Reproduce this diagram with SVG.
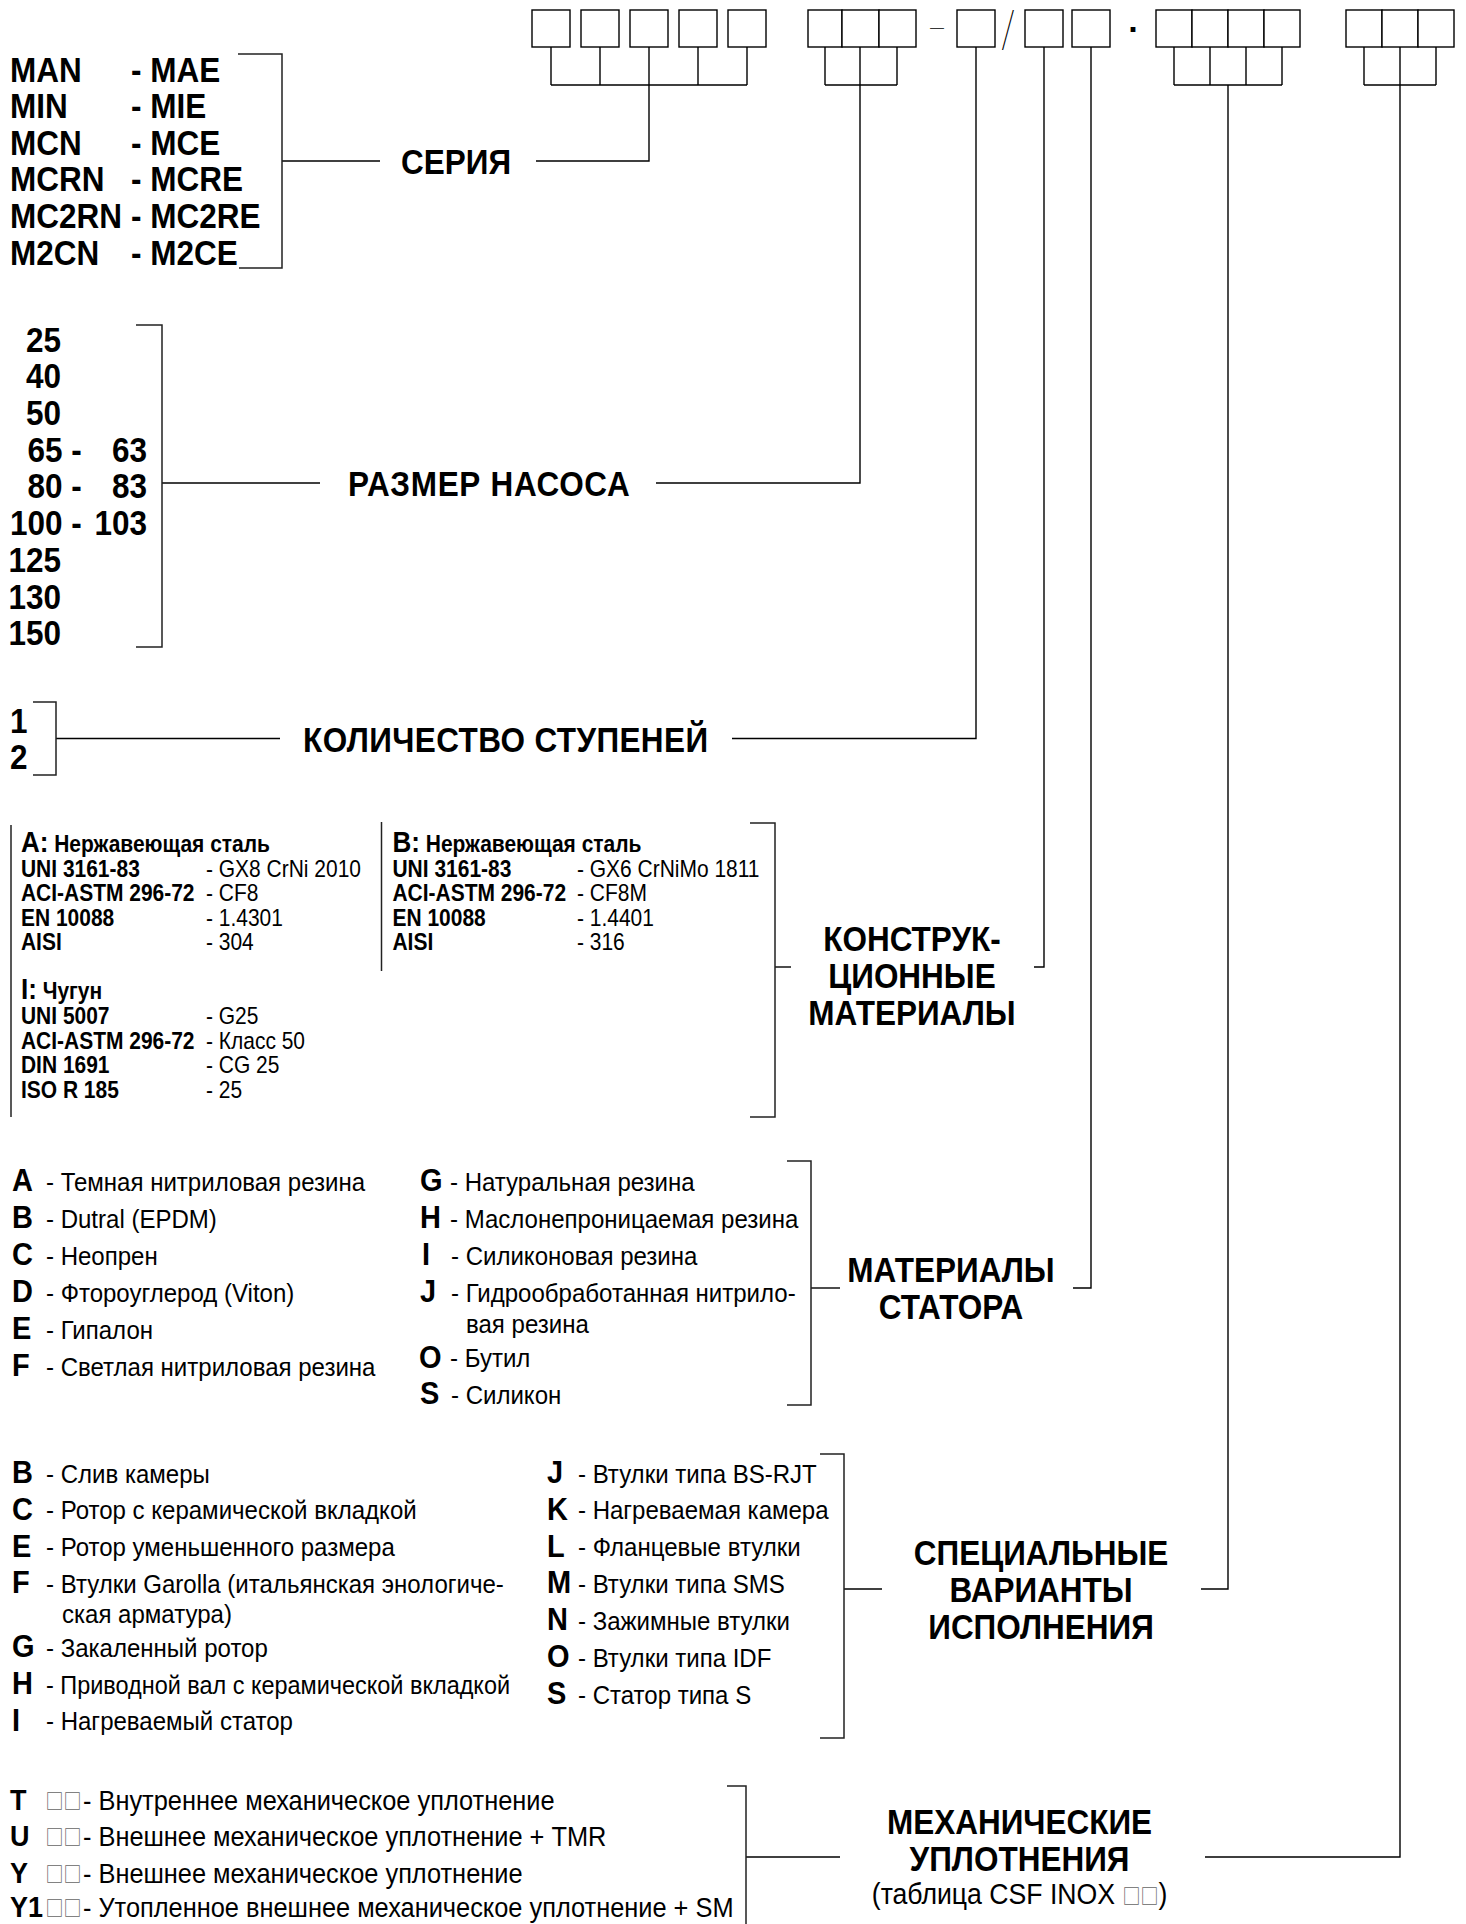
<svg xmlns="http://www.w3.org/2000/svg" width="1466" height="1924" viewBox="0 0 1466 1924">
<style>
text { font-family: "Liberation Sans", Arial, sans-serif; fill: #000; }
.lbl { font-size: 35px; font-weight: bold; }
.code { font-size: 35px; font-weight: bold; }
.ltr { font-size: 32.2px; font-weight: bold; }
.sltr { font-size: 30px; font-weight: bold; }
.it { font-size: 26.7px; }
.st { font-size: 28.2px; }
.sm { font-size: 23.3px; }
.smb { font-size: 23.3px; font-weight: bold; }
.big { font-size: 28.9px; font-weight: bold; }
.mid { text-anchor: middle; }
.end { text-anchor: end; }
.sq { font-family: "Noto Sans CJK SC", "DejaVu Sans", sans-serif; fill: #666; font-weight: normal; font-size: 20px; letter-spacing: 0px; }
.thin { font-family: Inter, "DejaVu Sans", sans-serif; font-weight: 100; }
.box { fill: #fff; stroke: #000; stroke-width: 1.4; }
.ln { fill: none; stroke: #000; stroke-width: 1.4; }
.br { fill: none; stroke: #222; stroke-width: 1.5; }
</style>
<rect width="1466" height="1924" fill="#fff"/>

<g id="connectors">
  <path class="ln" d="M551,47V85M600,47V85M649,47V85M698,47V85M747,47V85M551,85H747M649,85V161H536"/>
  <path class="ln" d="M282,161H380"/>
  <path class="ln" d="M825,47V85M860,47V85M897,47V85M825,85H897M860,85V483H656"/>
  <path class="ln" d="M162,483H320"/>
  <path class="ln" d="M976,47V738.5H732"/>
  <path class="ln" d="M56,738.5H280"/>
  <path class="ln" d="M1044,47V967H1034"/>
  <path class="ln" d="M775,967H791"/>
  <path class="ln" d="M1091,47V1288H1073"/>
  <path class="ln" d="M811,1288H840"/>
  <path class="ln" d="M1174,47V85M1210,47V85M1246,47V85M1282,47V85M1174,85H1282M1228,85V1589H1201"/>
  <path class="ln" d="M844,1589H882"/>
  <path class="ln" d="M1364,47V85M1400,47V85M1436,47V85M1364,85H1436M1400,85V1857H1205"/>
  <path class="ln" d="M746,1857H840"/>
</g>

<g id="code-template">
  <rect class="box" x="532" y="10" width="38" height="37"/>
  <rect class="box" x="581" y="10" width="38" height="37"/>
  <rect class="box" x="630" y="10" width="38" height="37"/>
  <rect class="box" x="679" y="10" width="38" height="37"/>
  <rect class="box" x="728" y="10" width="38" height="37"/>
  <rect class="box" x="808" y="10" width="34" height="37"/>
  <rect class="box" x="842" y="10" width="37" height="37"/>
  <rect class="box" x="879" y="10" width="37" height="37"/>
  <text x="937" y="37" style="font-size:28px" class="thin mid">–</text>
  <rect class="box" x="957" y="10" width="38" height="37"/>
  <text x="1008" y="45" style="font-size:46px" class="thin mid">/</text>
  <rect class="box" x="1025" y="10" width="38" height="37"/>
  <rect class="box" x="1072" y="10" width="38" height="37"/>
  <text x="1134" y="41" style="font-size:34px;font-weight:bold" class="mid">·</text>
  <rect class="box" x="1156" y="10" width="36" height="37"/>
  <rect class="box" x="1192" y="10" width="36" height="37"/>
  <rect class="box" x="1228" y="10" width="36" height="37"/>
  <rect class="box" x="1264" y="10" width="36" height="37"/>
  <rect class="box" x="1346" y="10" width="36" height="37"/>
  <rect class="box" x="1382" y="10" width="36" height="37"/>
  <rect class="box" x="1418" y="10" width="36" height="37"/>
</g>

<g id="series">
  <path class="br" d="M238,54H282V268H239"/>
  <g transform="scale(0.9 1)">
    <text class="code" x="11.1" y="81.7">MAN</text><text class="code" x="145.6" y="81.7">- MAE</text>
    <text class="code" x="11.1" y="118.2">MIN</text><text class="code" x="145.6" y="118.2">- MIE</text>
    <text class="code" x="11.1" y="154.7">MCN</text><text class="code" x="145.6" y="154.7">- MCE</text>
    <text class="code" x="11.1" y="191.2">MCRN</text><text class="code" x="145.6" y="191.2">- MCRE</text>
    <text class="code" x="11.1" y="228.2">MC2RN</text><text class="code" x="145.6" y="228.2">- MC2RE</text>
    <text class="code" x="11.1" y="264.7">M2CN</text><text class="code" x="145.6" y="264.7">- M2CE</text>
    <text class="lbl" x="445.6" y="174.2">СЕРИЯ</text>
  </g>
</g>

<g id="pump-size">
  <path class="br" d="M136,325H162V647H136"/>
  <g transform="scale(0.9 1)">
    <text class="code end" x="67.8" y="351.7">25</text>
    <text class="code end" x="67.8" y="388.2">40</text>
    <text class="code end" x="67.8" y="424.7">50</text>
    <text class="code" x="30.6" y="461.7">65 -</text><text class="code end" x="163.3" y="461.7">63</text>
    <text class="code" x="30.6" y="498.2">80 -</text><text class="code end" x="163.3" y="498.2">83</text>
    <text class="code" x="11.1" y="535.2">100 -</text><text class="code end" x="163.3" y="535.2">103</text>
    <text class="code end" x="67.8" y="571.7">125</text>
    <text class="code end" x="67.8" y="608.7">130</text>
    <text class="code end" x="67.8" y="645.2">150</text>
    <text class="lbl" x="386.7" y="496.2" textLength="313" lengthAdjust="spacing">РАЗМЕР НАСОСА</text>
  </g>
</g>

<g id="stages">
  <path class="br" d="M33,702H56V775H33"/>
  <g transform="scale(0.9 1)">
    <text class="code" x="11.1" y="733.2">1</text>
    <text class="code" x="11.1" y="769.2">2</text>
    <text class="lbl" x="336.7" y="752.2" textLength="450" lengthAdjust="spacing">КОЛИЧЕСТВО СТУПЕНЕЙ</text>
  </g>
</g>

<g id="construction-materials">
  <path class="br" d="M11,825V1117"/>
  <path class="br" d="M381.5,822V971"/>
  <path class="br" d="M750,823H775V1117H750"/>
  <g transform="scale(0.9 1)">
    <text x="23.3" y="851.8"><tspan class="big">A:</tspan><tspan class="smb"> Нержавеющая сталь</tspan></text>
    <text class="smb" x="23.3" y="876.8">UNI 3161-83</text><text class="sm" x="228.9" y="876.8">- GX8 CrNi 2010</text>
    <text class="smb" x="23.3" y="901.3">ACI-ASTM 296-72</text><text class="sm" x="228.9" y="901.3">- CF8</text>
    <text class="smb" x="23.3" y="925.8">EN 10088</text><text class="sm" x="228.9" y="925.8">- 1.4301</text>
    <text class="smb" x="23.3" y="950.3">AISI</text><text class="sm" x="228.9" y="950.3">- 304</text>
    <text x="23.3" y="998.8"><tspan class="big">I:</tspan><tspan class="smb"> Чугун</tspan></text>
    <text class="smb" x="23.3" y="1024.3">UNI 5007</text><text class="sm" x="228.9" y="1024.3">- G25</text>
    <text class="smb" x="23.3" y="1048.8">ACI-ASTM 296-72</text><text class="sm" x="228.9" y="1048.8">- Класс 50</text>
    <text class="smb" x="23.3" y="1073.3">DIN 1691</text><text class="sm" x="228.9" y="1073.3">- CG 25</text>
    <text class="smb" x="23.3" y="1097.8">ISO R 185</text><text class="sm" x="228.9" y="1097.8">- 25</text>
    <text x="436.1" y="851.8"><tspan class="big">B:</tspan><tspan class="smb"> Нержавеющая сталь</tspan></text>
    <text class="smb" x="436.1" y="876.8">UNI 3161-83</text><text class="sm" x="641.1" y="876.8">- GX6 CrNiMo 1811</text>
    <text class="smb" x="436.1" y="901.3">ACI-ASTM 296-72</text><text class="sm" x="641.1" y="901.3">- CF8M</text>
    <text class="smb" x="436.1" y="925.8">EN 10088</text><text class="sm" x="641.1" y="925.8">- 1.4401</text>
    <text class="smb" x="436.1" y="950.3">AISI</text><text class="sm" x="641.1" y="950.3">- 316</text>
    <text class="lbl mid" x="1013.3" y="951.2">КОНСТРУК-</text>
    <text class="lbl mid" x="1013.3" y="988.2">ЦИОННЫЕ</text>
    <text class="lbl mid" x="1013.3" y="1024.7">МАТЕРИАЛЫ</text>
  </g>
</g>

<g id="stator-materials">
  <path class="br" d="M787,1161H811V1405H787"/>
  <g transform="scale(0.9 1)">
    <text class="ltr" x="13.3" y="1191.2">A</text><text class="it" x="51.1" y="1191">- Темная нитриловая резина</text>
    <text class="ltr" x="13.3" y="1228.2">B</text><text class="it" x="51.1" y="1228">- Dutral (EPDM)</text>
    <text class="ltr" x="13.3" y="1265.2">C</text><text class="it" x="51.1" y="1265">- Неопрен</text>
    <text class="ltr" x="13.3" y="1302.2">D</text><text class="it" x="51.1" y="1302">- Фтороуглерод (Viton)</text>
    <text class="ltr" x="13.3" y="1339.2">E</text><text class="it" x="51.1" y="1339">- Гипалон</text>
    <text class="ltr" x="13.3" y="1376.2">F</text><text class="it" x="51.1" y="1376">- Светлая нитриловая резина</text>
    <text class="ltr" x="466.7" y="1191.2">G</text><text class="it" x="500" y="1191">- Натуральная резина</text>
    <text class="ltr" x="466.7" y="1228.2">H</text><text class="it" x="500" y="1228">- Маслонепроницаемая резина</text>
    <text class="ltr" x="468.9" y="1265.2">I</text><text class="it" x="501.1" y="1265">- Силиконовая резина</text>
    <text class="ltr" x="466.7" y="1302.2">J</text><text class="it" x="501.1" y="1302">- Гидрообработанная нитрило-</text>
    <text class="it" x="517.8" y="1333">вая резина</text>
    <text class="ltr" x="465.6" y="1367.7">O</text><text class="it" x="500" y="1367.5">- Бутил</text>
    <text class="ltr" x="466.7" y="1404.2">S</text><text class="it" x="501.1" y="1404">- Силикон</text>
    <text class="lbl mid" x="1056.7" y="1282.2">МАТЕРИАЛЫ</text>
    <text class="lbl mid" x="1056.7" y="1319.2">СТАТОРА</text>
  </g>
</g>

<g id="special-variants">
  <path class="br" d="M820,1454H844V1738H820"/>
  <g transform="scale(0.9 1)">
    <text class="ltr" x="13.3" y="1483.2">B</text><text class="it" x="51.1" y="1483">- Слив камеры</text>
    <text class="ltr" x="13.3" y="1519.7">C</text><text class="it" x="51.1" y="1519.5">- Ротор с керамической вкладкой</text>
    <text class="ltr" x="13.3" y="1556.7">E</text><text class="it" x="51.1" y="1556.5">- Ротор уменьшенного размера</text>
    <text class="ltr" x="13.3" y="1593.2">F</text><text class="it" x="51.1" y="1593">- Втулки Garolla (итальянская энологиче-</text>
    <text class="it" x="68.9" y="1623.5">ская арматура)</text>
    <text class="ltr" x="13.3" y="1657.2">G</text><text class="it" x="51.1" y="1657">- Закаленный ротор</text>
    <text class="ltr" x="13.3" y="1694.2">H</text><text class="it" x="51.1" y="1694" textLength="515.6" lengthAdjust="spacingAndGlyphs">- Приводной вал с керамической вкладкой</text>
    <text class="ltr" x="13.3" y="1730.7">I</text><text class="it" x="51.1" y="1730.5">- Нагреваемый статор</text>
    <text class="ltr" x="607.8" y="1483.2">J</text><text class="it" x="642.2" y="1483">- Втулки типа BS-RJT</text>
    <text class="ltr" x="607.8" y="1519.7">K</text><text class="it" x="642.2" y="1519.5">- Нагреваемая камера</text>
    <text class="ltr" x="607.8" y="1556.7">L</text><text class="it" x="642.2" y="1556.5">- Фланцевые втулки</text>
    <text class="ltr" x="607.8" y="1593.2">M</text><text class="it" x="642.2" y="1593">- Втулки типа SMS</text>
    <text class="ltr" x="607.8" y="1630.2">N</text><text class="it" x="642.2" y="1630">- Зажимные втулки</text>
    <text class="ltr" x="607.8" y="1667.2">O</text><text class="it" x="642.2" y="1667">- Втулки типа IDF</text>
    <text class="ltr" x="607.8" y="1704.2">S</text><text class="it" x="642.2" y="1704">- Статор типа S</text>
    <text class="lbl mid" x="1156.7" y="1565.2">СПЕЦИАЛЬНЫЕ</text>
    <text class="lbl mid" x="1156.7" y="1602.2">ВАРИАНТЫ</text>
    <text class="lbl mid" x="1156.7" y="1639.2">ИСПОЛНЕНИЯ</text>
  </g>
</g>

<g id="mechanical-seals">
  <path class="br" d="M727,1786H746V1924"/>
  <g transform="scale(0.9 1)">
    <text class="sltr" x="11.1" y="1810">T</text><text class="sq" x="50.5" y="1809">□□</text><text class="st" x="92.2" y="1810">- Внутреннее механическое уплотнение</text>
    <text class="sltr" x="11.1" y="1846.5">U</text><text class="sq" x="50.5" y="1845.5">□□</text><text class="st" x="92.2" y="1846.5">- Внешнее механическое уплотнение + TMR</text>
    <text class="sltr" x="11.1" y="1883">Y</text><text class="sq" x="50.5" y="1882">□□</text><text class="st" x="92.2" y="1883">- Внешнее механическое уплотнение</text>
    <text class="sltr" x="11.1" y="1917.5">Y1</text><text class="sq" x="50.5" y="1916.5">□□</text><text class="st" x="92.2" y="1917.5">- Утопленное внешнее механическое уплотнение + SM</text>
    <text class="lbl mid" x="1132.8" y="1834.2">МЕХАНИЧЕСКИЕ</text>
    <text class="lbl mid" x="1132.8" y="1871.2">УПЛОТНЕНИЯ</text>
    <text class="mid" style="font-size:29.6px" x="1132.8" y="1904">(таблица CSF INOX <tspan class="sq">□□</tspan>)</text>
  </g>
</g>
</svg>
